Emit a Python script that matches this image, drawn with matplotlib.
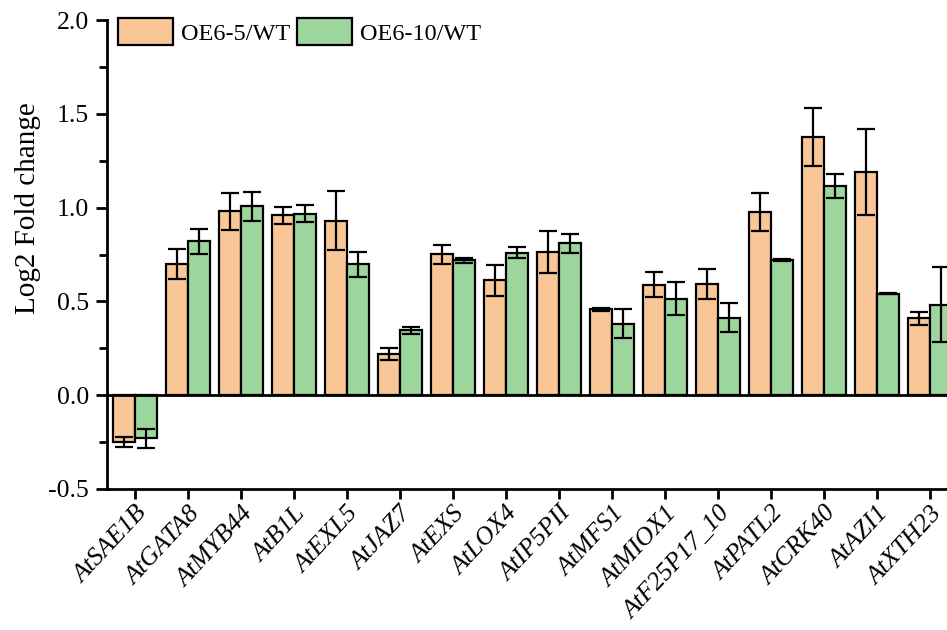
import numpy as np
import matplotlib
matplotlib.use('Agg')
import matplotlib.pyplot as plt

plt.rcParams['font.family'] = ['Liberation Serif', 'DejaVu Serif']

genes = ['AtSAE1B', 'AtGATA8', 'AtMYB44', 'AtB1L', 'AtEXL5', 'AtJAZ7', 'AtEXS',
         'AtLOX4', 'AtIP5PII', 'AtMFS1', 'AtMIOX1', 'AtF25P17_10', 'AtPATL2',
         'AtCRK40', 'AtAZI1', 'AtXTH23']

oe5_mean = [-0.25, 0.70, 0.98, 0.96, 0.93, 0.222, 0.752, 0.613, 0.764, 0.458,
            0.59, 0.595, 0.977, 1.377, 1.19, 0.409]
oe5_err = [0.028, 0.08, 0.10, 0.046, 0.157, 0.032, 0.05, 0.083, 0.11, 0.008,
           0.065, 0.08, 0.10, 0.156, 0.23, 0.033]

oe10_mean = [-0.23, 0.82, 1.007, 0.968, 0.697, 0.346, 0.72, 0.76, 0.809, 0.382,
             0.515, 0.414, 0.72, 1.114, 0.542, 0.483]
oe10_err = [0.05, 0.068, 0.077, 0.044, 0.068, 0.018, 0.014, 0.028, 0.052, 0.078,
            0.09, 0.078, 0.005, 0.064, 0.005, 0.20]

c_orange = '#F9C797'
c_green = '#9DD69D'

fig = plt.figure(figsize=(9.47, 6.3), dpi=100)
ax = fig.add_axes([0.113, 0.224, 0.887, 0.744])

x = np.arange(len(genes))
w = 0.41
err_kw = dict(ecolor='black', elinewidth=1.6, capsize=6.5, capthick=1.6)

ax.bar(x - w / 2, oe5_mean, w, yerr=oe5_err, color=c_orange, edgecolor='black',
       linewidth=1.6, error_kw=err_kw, label='OE6-5/WT', zorder=2)
ax.bar(x + w / 2, oe10_mean, w, yerr=oe10_err, color=c_green, edgecolor='black',
       linewidth=1.6, error_kw=err_kw, label='OE6-10/WT', zorder=2)

ax.axhline(0, color='black', linewidth=2.0, zorder=3)

ax.set_xlim(-0.53, 15.32)
ax.set_ylim(-0.5, 2.0)
ax.set_yticks([-0.5, 0.0, 0.5, 1.0, 1.5, 2.0])
ax.set_yticklabels(['-0.5', '0.0', '0.5', '1.0', '1.5', '2.0'])
ax.set_yticks([-0.25, 0.25, 0.75, 1.25, 1.75], minor=True)
ax.set_xticks(x)
ax.set_xticklabels(genes, rotation=47, ha='right', va='top',
                   rotation_mode='anchor', fontstyle='italic', fontsize=18.5)

for s in ['top', 'right']:
    ax.spines[s].set_visible(False)
for s in ['left', 'bottom']:
    ax.spines[s].set_linewidth(2.0)

ax.tick_params(axis='y', which='major', length=8, width=2.0, labelsize=18.5, pad=5)
ax.tick_params(axis='y', which='minor', length=6, width=2.0)
ax.tick_params(axis='x', which='major', length=7, width=2.0, pad=3)

ax.set_ylabel('Log2 Fold change', fontsize=21)
ax.yaxis.set_label_coords(-0.078, 0.60)

ax.legend(loc='upper left', bbox_to_anchor=(-0.004, 1.035), ncol=2, frameon=False,
          fontsize=17.5, handlelength=2.25, handleheight=1.3, handletextpad=0.33,
          columnspacing=0.3, borderaxespad=0.2)

fig.savefig('out.png', dpi=100)
